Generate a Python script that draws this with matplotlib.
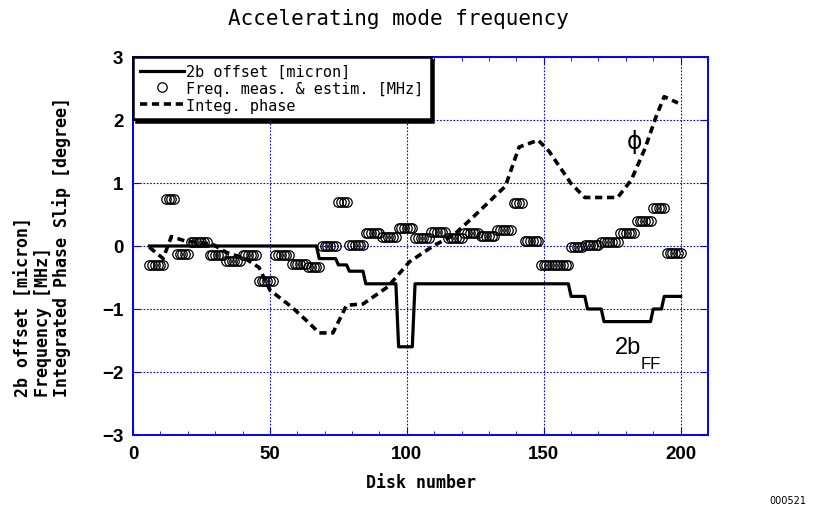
import numpy as np
import matplotlib.pyplot as plt
from matplotlib.ticker import MultipleLocator

# measured / estimated frequency: disks first..last share one value [MHz]
freq_first = [6, 12, 16, 21, 28, 34, 40, 46, 52, 58, 64, 69, 75, 79, 85, 91, 97,
              103, 109, 115, 121, 127, 133, 139, 143, 149, 160, 165, 171, 178,
              184, 190, 195]
freq_last = [11, 15, 20, 27, 33, 39, 45, 51, 57, 63, 68, 74, 78, 84, 90, 96, 102,
             108, 114, 120, 126, 132, 138, 142, 148, 159, 164, 170, 177, 183,
             189, 194, 200]
freq_value = [-0.30, 0.75, -0.13, 0.06, -0.15, -0.24, -0.14, -0.55, -0.14, -0.28,
              -0.34, 0.00, 0.70, 0.01, 0.21, 0.15, 0.28, 0.12, 0.22, 0.12, 0.21,
              0.16, 0.26, 0.68, 0.08, -0.30, -0.01, 0.02, 0.06, 0.21, 0.39, 0.60,
              -0.11]

# 2b offset [micron]
offset_disk = [6, 67, 68, 74, 75, 78, 79, 84, 85, 96, 97, 102, 103, 159, 160,
               165, 166, 171, 172, 189, 190, 193, 194, 200]
offset_value = [0, 0, -0.2, -0.2, -0.3, -0.3, -0.4, -0.4, -0.6, -0.6, -1.6, -1.6,
                -0.6, -0.6, -0.8, -0.8, -1.0, -1.0, -1.2, -1.2, -1.0, -1.0, -0.8,
                -0.8]

# integrated phase slip [degree]
phase_disk = [6, 11, 14, 19, 29, 34, 41, 46, 50, 58, 64, 68, 73, 78, 84, 93, 101,
              110, 117, 124, 136, 141, 148, 152, 160, 165, 177, 182, 187, 191,
              194, 199]
phase_value = [-0.02, -0.20, 0.15, 0.08, 0.03, -0.10, -0.20, -0.34, -0.70, -0.97,
               -1.21, -1.38, -1.38, -0.94, -0.92, -0.65, -0.25, 0.01, 0.17, 0.45,
               0.95, 1.57, 1.68, 1.50, 0.99, 0.77, 0.77, 1.05, 1.55, 2.05, 2.37,
               2.27]

mono = 'DejaVu Sans Mono'
num_font = 'Liberation Sans'

fig = plt.figure(figsize=(8.19, 5.10), dpi=100)
ax = fig.add_axes([0.1624, 0.1451, 0.7021, 0.7412])

freq_disk = np.concatenate([np.arange(a, b + 1) for a, b in zip(freq_first, freq_last)])
freq_y = np.concatenate([np.full(b - a + 1, v)
                         for a, b, v in zip(freq_first, freq_last, freq_value)])

ax.plot(offset_disk, offset_value, color='black', lw=2.3, zorder=4,
        label='2b offset [micron]')
ax.plot(freq_disk, freq_y, ls='none', marker='o', ms=6.8, mfc='none',
        mec='black', mew=0.9, zorder=3, label='Freq. meas. & estim. [MHz]')
ax.plot(phase_disk, phase_value, color='black', lw=2.6, ls=(0, (2.0, 1.3)),
        zorder=4, label='Integ. phase')

ax.set_xlim(0, 210)
ax.set_ylim(-3, 3)
ax.set_xticks([0, 50, 100, 150, 200])
ax.xaxis.set_minor_locator(MultipleLocator(10))
ax.yaxis.set_major_locator(MultipleLocator(1))
ax.grid(True, which='major', color='blue', lw=0.8, ls=(0, (1.5, 1.5)))

for s in ax.spines.values():
    s.set_color('blue')
    s.set_linewidth(1.4)
ax.tick_params(which='both', direction='in', top=True, right=True, color='blue')
ax.tick_params(which='major', length=5, pad=7)
ax.tick_params(which='minor', length=3)
for lab in ax.get_xticklabels() + ax.get_yticklabels():
    lab.set_family(num_font)
    lab.set_fontweight('bold')
    lab.set_fontsize(13.5)

ax.set_xlabel('Disk number', family=mono, fontweight='bold', fontsize=12,
              labelpad=8)
ax.set_ylabel('2b offset [micron]\nFrequency [MHz]\nIntegrated Phase Slip [degree]',
              family=mono, fontweight='bold', fontsize=12, multialignment='left',
              linespacing=1.05, labelpad=22)

fig.text(0.487, 0.962, 'Accelerating mode frequency', family=mono, fontsize=15,
         ha='center', va='center')

ax.text(183, 1.67, 'ϕ', fontsize=17, ha='center', va='center', zorder=5)
ax.text(176, -1.6, '2b', family=num_font, fontsize=17, ha='left',
        va='center', zorder=5)
ax.text(185.3, -1.86, 'FF', family=num_font, fontsize=12, ha='left',
        va='center', zorder=5)

leg = ax.legend(loc='upper left', bbox_to_anchor=(0, 1), borderaxespad=0,
                prop={'family': mono, 'size': 11}, frameon=True, fancybox=False,
                edgecolor='black', framealpha=1, handlelength=2.9,
                handletextpad=0.15, labelspacing=0.12, borderpad=0.45,
                shadow={'color': 'black', 'alpha': 1})
leg.get_frame().set_linewidth(1.8)
leg.set_zorder(6)

fig.text(0.985, 0.008, '000521', fontsize=7, ha='right', va='bottom')

fig.savefig('out.png', dpi=100)
